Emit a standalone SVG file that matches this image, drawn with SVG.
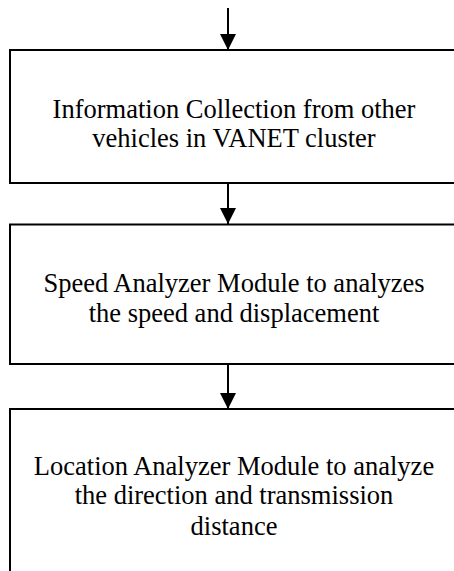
<svg xmlns="http://www.w3.org/2000/svg" width="454" height="571" viewBox="0 0 454 571">
<defs>
<marker id="ah" markerWidth="16" markerHeight="16" viewBox="0 0 16 16" refX="16" refY="8" orient="auto" markerUnits="userSpaceOnUse">
<path d="M0,0 L16,8 L0,16 Z" fill="#000"/>
</marker>
<style>
.box{fill:#fff;stroke:#000;stroke-width:2}
.t{font-family:"Liberation Serif","Times New Roman",serif;font-size:26.5px;fill:#000;text-anchor:middle}
.c{stroke:#000;stroke-width:2;fill:none}
</style>
</defs>
<rect width="454" height="571" fill="#fff"/>
<g id="connectors">
<line class="c" x1="228" y1="8" x2="228" y2="50" marker-end="url(#ah)"/>
<line class="c" x1="228" y1="183" x2="228" y2="224" marker-end="url(#ah)"/>
<line class="c" x1="228" y1="364" x2="228" y2="409" marker-end="url(#ah)"/>
</g>
<g id="node1">
<rect class="box" x="10" y="50" width="450" height="133"/>
<text class="t" x="234" y="118">Information Collection from other</text>
<text class="t" x="234" y="147">vehicles in VANET cluster</text>
</g>
<g id="node2">
<rect class="box" x="10" y="224.5" width="450" height="139.5"/>
<text class="t" x="234" y="292">Speed Analyzer Module to analyzes</text>
<text class="t" x="234" y="322">the speed and displacement</text>
</g>
<g id="node3">
<rect class="box" x="10" y="409" width="450" height="180"/>
<text class="t" x="234" y="475">Location Analyzer Module to analyze</text>
<text class="t" x="234" y="504">the direction and transmission</text>
<text class="t" x="234" y="535">distance</text>
</g>
</svg>
